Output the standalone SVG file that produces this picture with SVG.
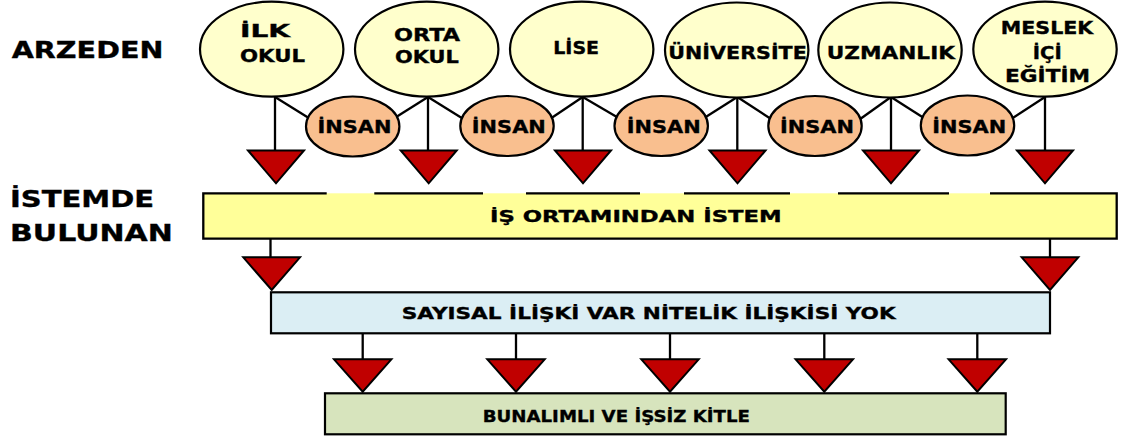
<svg xmlns="http://www.w3.org/2000/svg" width="1126" height="439" viewBox="0 0 1126 439">
<style>
  .lbl{font-family:"DejaVu Sans","Open Sans",sans-serif;font-weight:bold;fill:#000;stroke:#000;stroke-width:0.35}
  .side{font-size:22.5px}
  .top{font-size:17.5px}
  .ins{font-size:17px}
  .box{font-size:16px}
  .edu{fill:#FFFFCC;stroke:#000;stroke-width:2.2}
  .hum{fill:#F9BF8F;stroke:#000;stroke-width:2.2}
  .ln{stroke:#000;stroke-width:2.3;fill:none}
  .tri{fill:#C00000;stroke:#000;stroke-width:2;stroke-linejoin:miter}
</style>
<rect width="1126" height="439" fill="#fff"/>

<g id="labels">
  <text class="lbl side" transform="scale(1.3,1)" x="9" y="58.3" textLength="116.7" lengthAdjust="spacingAndGlyphs">ARZEDEN</text>
  <text class="lbl side" transform="scale(1.3,1)" x="7.7" y="207.3" textLength="110.8" lengthAdjust="spacingAndGlyphs">İSTEMDE</text>
  <text class="lbl side" transform="scale(1.3,1)" x="7.7" y="240.7" textLength="125.2" lengthAdjust="spacingAndGlyphs">BULUNAN</text>
</g>

<g id="connectors">
  <line class="ln" x1="275" y1="96" x2="275" y2="151"/>
  <line class="ln" x1="428" y1="96" x2="428" y2="151"/>
  <line class="ln" x1="582.7" y1="96" x2="582.7" y2="151"/>
  <line class="ln" x1="737.3" y1="96" x2="737.3" y2="151"/>
  <line class="ln" x1="891" y1="96" x2="891" y2="151"/>
  <line class="ln" x1="1045" y1="96" x2="1045" y2="151"/>
  <line class="ln" x1="275" y1="97" x2="312" y2="120"/>
  <line class="ln" x1="428" y1="97" x2="393" y2="119"/>
  <line class="ln" x1="428" y1="97" x2="465" y2="120"/>
  <line class="ln" x1="582.7" y1="97" x2="547" y2="121"/>
  <line class="ln" x1="582.7" y1="97" x2="622" y2="120"/>
  <line class="ln" x1="737.3" y1="97" x2="701" y2="120"/>
  <line class="ln" x1="737.3" y1="97" x2="774" y2="121"/>
  <line class="ln" x1="891" y1="97" x2="856" y2="122"/>
  <line class="ln" x1="891" y1="97" x2="927" y2="120"/>
  <line class="ln" x1="1045" y1="97" x2="1008" y2="121"/>
  <polygon class="tri" points="248,150.5 304,150.5 276,183.3"/>
  <polygon class="tri" points="400.7,150.5 456.7,150.5 428.7,183.3"/>
  <polygon class="tri" points="555,150.5 611,150.5 583,183.3"/>
  <polygon class="tri" points="709.5,150.5 765.5,150.5 737.5,183.3"/>
  <polygon class="tri" points="863,150.5 919,150.5 891,183.3"/>
  <polygon class="tri" points="1017,150.5 1073,150.5 1045,183.3"/>
  <line class="ln" x1="270.5" y1="238.7" x2="270.5" y2="258"/>
  <line class="ln" x1="1050" y1="238.7" x2="1050" y2="258"/>
  <polygon class="tri" points="243.3,257.3 300,257.3 271.7,290"/>
  <polygon class="tri" points="1021.7,257.3 1078.3,257.3 1050,290"/>
  <line class="ln" x1="362.7" y1="333" x2="362.7" y2="360"/>
  <line class="ln" x1="516" y1="333" x2="516" y2="360"/>
  <line class="ln" x1="670" y1="333" x2="670" y2="360"/>
  <line class="ln" x1="824.3" y1="333" x2="824.3" y2="360"/>
  <line class="ln" x1="977.3" y1="333" x2="977.3" y2="360"/>
  <polygon class="tri" points="334,359.3 391.4,359.3 362.7,391.7"/>
  <polygon class="tri" points="487.3,359.3 544.7,359.3 516,391.7"/>
  <polygon class="tri" points="641.3,359.3 698.7,359.3 670,391.7"/>
  <polygon class="tri" points="795.6,359.3 853,359.3 824.3,391.7"/>
  <polygon class="tri" points="948.6,359.3 1006,359.3 977.3,391.7"/>
</g>

<g id="ilkokul">
  <ellipse class="edu" cx="271.7" cy="49.2" rx="71.7" ry="47.5"/>
  <text class="lbl top" transform="scale(1.3,1)" x="184.6" y="37.3" textLength="38.5" lengthAdjust="spacingAndGlyphs">İLK</text>
  <text class="lbl top" transform="scale(1.3,1)" x="184.6" y="62.3" textLength="50" lengthAdjust="spacingAndGlyphs">OKUL</text>
</g>
<g id="ortaokul">
  <ellipse class="edu" cx="426.7" cy="49.2" rx="71.7" ry="47.5"/>
  <text class="lbl top" transform="scale(1.3,1)" x="303.1" y="40.7" textLength="50.8" lengthAdjust="spacingAndGlyphs">ORTA</text>
  <text class="lbl top" transform="scale(1.3,1)" x="303.8" y="63.3" textLength="49.2" lengthAdjust="spacingAndGlyphs">OKUL</text>
</g>
<g id="lise">
  <ellipse class="edu" cx="581.7" cy="49.2" rx="71.7" ry="47.5"/>
  <text class="lbl top" transform="scale(1.3,1)" x="425.6" y="53.8" textLength="35.2" lengthAdjust="spacingAndGlyphs">LİSE</text>
</g>
<g id="universite">
  <ellipse class="edu" cx="736.7" cy="50" rx="71.7" ry="47.5"/>
  <text class="lbl top" transform="scale(1.3,1)" x="514.1" y="58.8" textLength="106.5" lengthAdjust="spacingAndGlyphs">ÜNİVERSİTE</text>
</g>
<g id="uzmanlik">
  <ellipse class="edu" cx="890" cy="50" rx="71.7" ry="47.5"/>
  <text class="lbl top" transform="scale(1.3,1)" x="635.9" y="59" textLength="98.7" lengthAdjust="spacingAndGlyphs">UZMANLIK</text>
</g>
<g id="meslekici">
  <ellipse class="edu" cx="1045" cy="49.2" rx="71.7" ry="47.5"/>
  <text class="lbl top" transform="scale(1.3,1)" x="769.8" y="34.3" textLength="71.2" lengthAdjust="spacingAndGlyphs">MESLEK</text>
  <text class="lbl top" transform="scale(1.3,1)" x="794.4" y="59.3" textLength="22.3" lengthAdjust="spacingAndGlyphs">İÇİ</text>
  <text class="lbl top" transform="scale(1.3,1)" x="773.1" y="81.7" textLength="65.4" lengthAdjust="spacingAndGlyphs">EĞİTİM</text>
</g>

<g id="insan1">
  <ellipse class="hum" cx="352.7" cy="126.5" rx="46.7" ry="30"/>
  <text class="lbl ins" transform="scale(1.3,1)" x="272.7" y="132.7" text-anchor="middle" textLength="56.9" lengthAdjust="spacingAndGlyphs">İNSAN</text>
</g>
<g id="insan2">
  <ellipse class="hum" cx="507" cy="126" rx="46.7" ry="30"/>
  <text class="lbl ins" transform="scale(1.3,1)" x="391.4" y="132.7" text-anchor="middle" textLength="56.9" lengthAdjust="spacingAndGlyphs">İNSAN</text>
</g>
<g id="insan3">
  <ellipse class="hum" cx="661.2" cy="126" rx="46.7" ry="30"/>
  <text class="lbl ins" transform="scale(1.3,1)" x="510.6" y="132.7" text-anchor="middle" textLength="56.9" lengthAdjust="spacingAndGlyphs">İNSAN</text>
</g>
<g id="insan4">
  <ellipse class="hum" cx="815" cy="126" rx="46.7" ry="30"/>
  <text class="lbl ins" transform="scale(1.3,1)" x="628.5" y="132.7" text-anchor="middle" textLength="56.9" lengthAdjust="spacingAndGlyphs">İNSAN</text>
</g>
<g id="insan5">
  <ellipse class="hum" cx="967.5" cy="125.5" rx="46.7" ry="30"/>
  <text class="lbl ins" transform="scale(1.3,1)" x="745.5" y="132.7" text-anchor="middle" textLength="56.9" lengthAdjust="spacingAndGlyphs">İNSAN</text>
</g>

<g id="is-ortami">
  <rect x="203.3" y="193.3" width="913.4" height="45.4" fill="#FFFF99"/>
  <path class="ln" d="M326.7,193.3 H203.3 V238.7 H1116.7 V193.3 H990 M374.3,193.3 H483 M526,193.3 H640 M684,193.3 H790 M838,193.3 H949"/>
  <text class="lbl box" transform="scale(1.3,1)" x="376.9" y="222.3" textLength="224.4" lengthAdjust="spacingAndGlyphs">İŞ ORTAMINDAN İSTEM</text>
</g>
<g id="sayisal">
  <rect x="271" y="292.3" width="779" height="41" fill="#DBEEF4" stroke="#000" stroke-width="2.2"/>
  <text class="lbl box" transform="scale(1.3,1)" x="309" y="319.3" textLength="380" lengthAdjust="spacingAndGlyphs">SAYISAL İLİŞKİ VAR NİTELİK İLİŞKİSİ YOK</text>
</g>
<g id="bunalimli">
  <rect x="325" y="393.3" width="680.7" height="41" fill="#D7E4BD" stroke="#000" stroke-width="2.2"/>
  <text class="lbl box" transform="scale(1.3,1)" x="371.3" y="421.7" textLength="205.6" lengthAdjust="spacingAndGlyphs">BUNALIMLI VE İŞSİZ KİTLE</text>
</g>
</svg>
